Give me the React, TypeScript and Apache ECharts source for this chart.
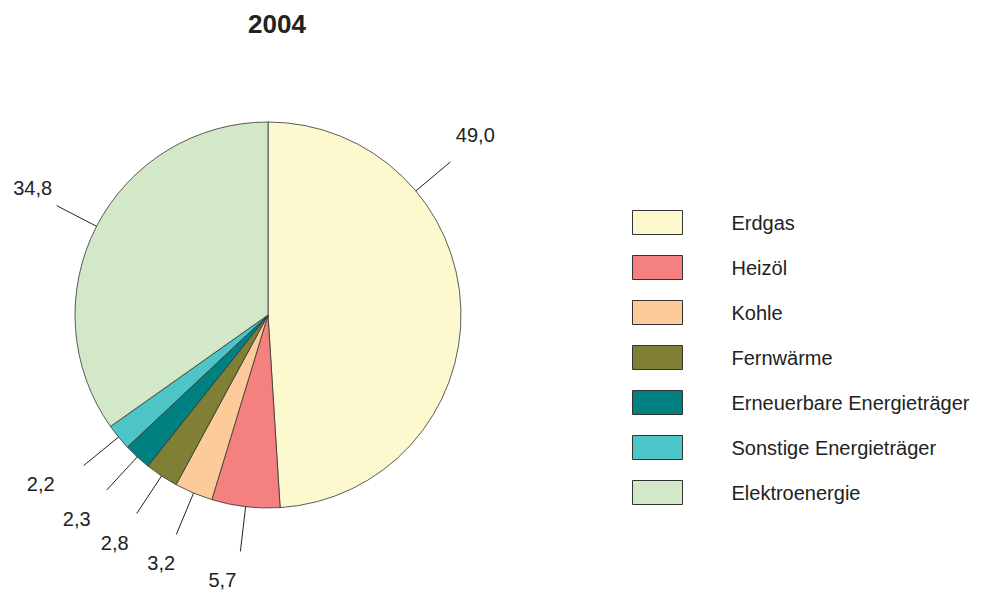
import React, { useEffect, useRef } from "react";
import * as echarts from "echarts";

const TITLE = "2004";
const categories = [
  "Erdgas",
  "Heizöl",
  "Kohle",
  "Fernwärme",
  "Erneuerbare Energieträger",
  "Sonstige Energieträger",
  "Elektroenergie",
];
const values = [49.0, 5.7, 3.2, 2.8, 2.3, 2.2, 34.8];
const colors = ["#FCF9CF", "#F58080", "#FDCB99", "#7F8035", "#008080", "#4DC4C6", "#D2E8C9"];

// layout (pixels)
const CX = 268;
const CY = 315;
const R = 193;
const LINE_IN = 186;
const LINE_OUT = 238;
// angle override (degrees clockwise from top) for the label line of a slice
const LABEL_ANGLE_OVERRIDE: Record<number, number> = { 0: 50 };
// label centre offsets relative to the outer end of the label line
const LABEL_OFFSET = [
  [25, -27],
  [-18, 29],
  [-15, 28],
  [-22, 29],
  [-30, 29],
  [-43, 18],
  [-24, -18],
];

const FONT = "'Liberation Sans', Arial, sans-serif";

export default function App() {
  const ref = useRef<HTMLDivElement>(null);
  useEffect(() => {
    if (!ref.current) return;
    const chart = echarts.init(ref.current, undefined, { renderer: "svg" });
    const total = values.reduce((a, b) => a + b, 0);
    const midAngles: number[] = [];
    let cum = 0;
    values.forEach((v) => {
      midAngles.push(((cum + v / 2) / total) * 360);
      cum += v;
    });
    const pt = (deg: number, r: number) => {
      const a = (deg * Math.PI) / 180;
      return [CX + r * Math.sin(a), CY - r * Math.cos(a)];
    };

    chart.setOption({
      animation: false,
      title: {
        text: TITLE,
        left: 248,
        top: 11,
        padding: 0,
        textStyle: { fontFamily: FONT, fontSize: 26, fontWeight: "bold", color: "#222" },
      },
      legend: {
        orient: "vertical",
        left: 632,
        top: 210,
        padding: 0,
        itemWidth: 50,
        itemHeight: 24,
        itemGap: 20,
        icon: "rect",
        selectedMode: false,
        itemStyle: { borderColor: "#333", borderWidth: 1 },
        textStyle: { fontFamily: FONT, fontSize: 20, color: "#222", padding: [0, 0, 0, 44] },
        data: categories,
      },
      series: [
        {
          type: "pie",
          center: [CX, CY],
          radius: R,
          startAngle: 90,
          clockwise: true,
          avoidLabelOverlap: false,
          itemStyle: { borderColor: "#333", borderWidth: 0.8 },
          emphasis: { disabled: true },
          label: {
            show: true,
            position: "outside",
            fontFamily: FONT,
            fontSize: 20,
            color: "#222",
            formatter: (p: any) => Number(p.value).toFixed(1).replace(".", ","),
          },
          labelLine: {
            show: true,
            length: 10,
            length2: 0,
            lineStyle: { color: "#222", width: 1 },
          },
          labelLayout: (params: any) => {
            const i = params.dataIndex;
            const ang = LABEL_ANGLE_OVERRIDE[i] != null ? LABEL_ANGLE_OVERRIDE[i] : midAngles[i];
            const p0 = pt(ang, LINE_IN);
            const p1 = pt(ang, LINE_OUT);
            const off = LABEL_OFFSET[i];
            return {
              x: p1[0] + off[0],
              y: p1[1] + off[1],
              align: "center",
              verticalAlign: "middle",
              labelLinePoints: [p0, p1],
            };
          },
          data: categories.map((name, i) => ({
            name,
            value: values[i],
            itemStyle: { color: colors[i] },
          })),
        },
      ],
    });
    return () => chart.dispose();
  }, []);
  return (
    <div
      ref={ref}
      style={{ position: "fixed", left: 0, top: 0, width: 989, height: 592, background: "#fff" }}
    />
  );
}
